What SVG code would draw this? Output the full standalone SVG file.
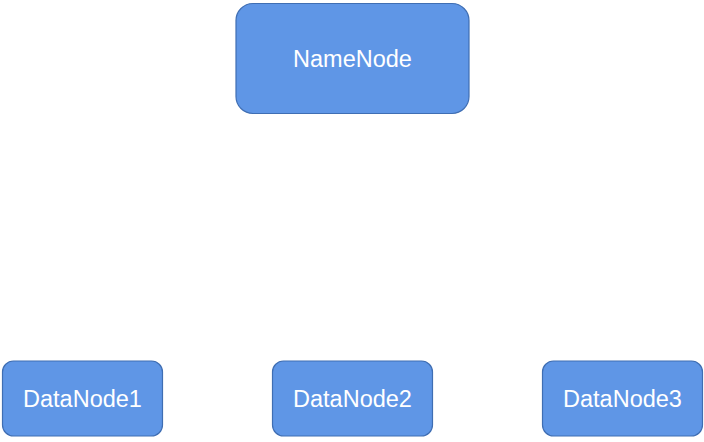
<svg xmlns="http://www.w3.org/2000/svg" width="704" height="442" viewBox="0 0 704 442">
<style>
.box{fill:#5F96E6;stroke:#3F6EB3;stroke-width:1.2}
.lbl{font-family:"Liberation Sans",Arial,sans-serif;font-size:23.5px;fill:#fff;text-anchor:middle}
</style>
<rect width="704" height="442" fill="#fff"/>
<g id="connectors"></g>
<g id="namenode"><rect class="box" x="236" y="3.5" width="233" height="110" rx="17"/><text class="lbl" x="352.5" y="67">NameNode</text></g>
<g id="datanode1"><rect class="box" x="2.5" y="361" width="160" height="75" rx="11"/><text class="lbl" x="82.5" y="407">DataNode1</text></g>
<g id="datanode2"><rect class="box" x="272.5" y="361" width="160" height="75" rx="11"/><text class="lbl" x="352.5" y="407">DataNode2</text></g>
<g id="datanode3"><rect class="box" x="542.5" y="361" width="160" height="75" rx="11"/><text class="lbl" x="622.5" y="407">DataNode3</text></g>
</svg>
